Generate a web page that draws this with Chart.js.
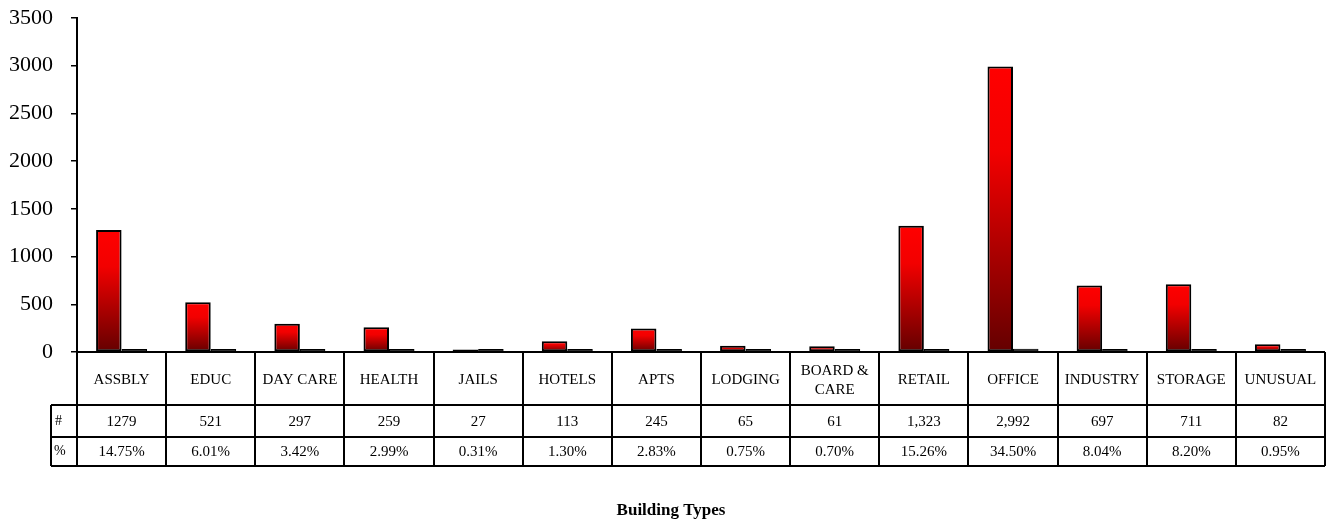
<!DOCTYPE html>
<html lang="en">
<head>
    <meta charset="UTF-8">
    <title>Building Types</title>
    <style>
        body {
            margin: 0;
            background: #ffffff;
        }
        .wrap {
            width: 1326px;
            height: 525px;
            position: relative;
        }
    </style>
</head>
<body>
<div class="wrap">
    <canvas id="chart"></canvas>
</div>

<script src="https://cdn.jsdelivr.net/npm/chart.js"></script>
<script>
    // categories (multi-line labels as arrays)
    const categories = ['ASSBLY', 'EDUC', 'DAY CARE', 'HEALTH', 'JAILS', 'HOTELS', 'APTS',
        'LODGING', ['BOARD &', 'CARE'], 'RETAIL', 'OFFICE', 'INDUSTRY', 'STORAGE', 'UNUSUAL'];
    const counts = [1279, 521, 297, 259, 27, 113, 245, 65, 61, 1323, 2992, 697, 711, 82];
    const countText = ['1279', '521', '297', '259', '27', '113', '245', '65', '61',
        '1,323', '2,992', '697', '711', '82'];
    const percents = [14.75, 6.01, 3.42, 2.99, 0.31, 1.30, 2.83, 0.75, 0.70, 15.26, 34.50, 8.04, 8.20, 0.95];
    const yTicks = [0, 500, 1000, 1500, 2000, 2500, 3000, 3500];

    const SERIF = "'Liberation Serif', 'Times New Roman', serif";

    // per-bar red gradient, bright at the top, maroon at the base
    function redFill(ctx) {
        const chart = ctx.chart;
        const ys = chart.scales.y;
        if (!chart.chartArea || !ys) return '#d00000';
        const top = ys.getPixelForValue(ctx.raw);
        const base = ys.getPixelForValue(0);
        if (Math.abs(base - top) < 1) return '#ff0000';
        const g = chart.ctx.createLinearGradient(0, top, 0, base);
        g.addColorStop(0, '#ff0000');
        g.addColorStop(0.3, '#f20000');
        g.addColorStop(1, '#640000');
        return g;
    }

    // data table + axis line + x title drawn under the plot
    const tablePlugin = {
        id: 'dataTable',
        afterDraw(chart) {
            const c = chart.ctx;
            const area = chart.chartArea;
            const n = categories.length;
            const w = (area.right - area.left) / n;
            const y0 = chart.scales.y.getPixelForValue(0);
            const rowA = 405, rowB = 437, rowC = 466;
            const leftCol = 51;

            c.save();
            c.strokeStyle = '#000';
            c.lineWidth = 2;

            // axis line
            c.beginPath();
            c.moveTo(area.left, y0);
            c.lineTo(area.right, y0);
            c.stroke();

            // vertical cell borders
            for (let i = 0; i <= n; i++) {
                const x = Math.round(area.left + i * w);
                c.beginPath();
                c.moveTo(x, y0);
                c.lineTo(x, rowC);
                c.stroke();
            }
            c.beginPath();
            c.moveTo(leftCol, rowA);
            c.lineTo(leftCol, rowC);
            c.stroke();

            // horizontal rows
            [rowA, rowB, rowC].forEach(y => {
                c.beginPath();
                c.moveTo(leftCol, y);
                c.lineTo(area.right, y);
                c.stroke();
            });

            c.fillStyle = '#000';
            c.textAlign = 'center';
            c.textBaseline = 'middle';
            c.font = '15px ' + SERIF;
            for (let i = 0; i < n; i++) {
                const cx = chart.scales.x.getPixelForValue(i);
                const lab = categories[i];
                if (Array.isArray(lab)) {
                    c.fillText(lab[0], cx, 371);
                    c.fillText(lab[1], cx, 390);
                } else {
                    c.fillText(lab, cx, 380);
                }
                c.fillText(countText[i], cx, 422);
                c.fillText(percents[i].toFixed(2) + '%', cx, 452);
            }

            c.textAlign = 'left';
            c.font = '14px ' + SERIF;
            c.fillText('#', 55, 421);
            c.fillText('%', 54, 451);

            // axis title
            c.textAlign = 'center';
            c.font = 'bold 17px ' + SERIF;
            c.fillText('Building Types', 671, 511);
            c.restore();
        }
    };

    const ctx = document.getElementById('chart').getContext('2d');
    const chart = new Chart(ctx, {
        type: 'bar',
        data: {
            labels: categories,
            datasets: [{
                label: '#',
                data: counts,
                backgroundColor: redFill,
                borderColor: '#000',
                borderWidth: 2,
                borderSkipped: false
            }, {
                label: '%',
                data: percents,
                backgroundColor: '#000',
                borderColor: '#000',
                borderWidth: 1,
                borderSkipped: false,
                minBarLength: 3
            }]
        },
        options: {
            responsive: true,
            maintainAspectRatio: false,
            animation: false,
            layout: {
                padding: { top: 18, bottom: 173, right: 1, left: 0 }
            },
            datasets: {
                bar: {
                    categoryPercentage: 0.572,
                    barPercentage: 1
                }
            },
            plugins: {
                legend: { display: false },
                tooltip: { enabled: false }
            },
            scales: {
                x: {
                    display: false
                },
                y: {
                    min: 0,
                    max: 3500,
                    afterFit(scale) {
                        scale.width = 77;
                        scale.paddingTop = 0;
                        scale.paddingBottom = 0;
                    },
                    afterBuildTicks(scale) {
                        scale.ticks = yTicks.map(v => ({ value: v }));
                    },
                    border: { display: true, color: '#000', width: 2 },
                    grid: {
                        drawOnChartArea: false,
                        drawTicks: true,
                        tickLength: 6,
                        color: '#000',
                        lineWidth: 1.5
                    },
                    ticks: {
                        color: '#000',
                        padding: 18,
                        font: { family: SERIF, size: 22 },
                        callback: v => String(v)
                    }
                }
            }
        },
        plugins: [tablePlugin]
    });
</script>
</body>
</html>
